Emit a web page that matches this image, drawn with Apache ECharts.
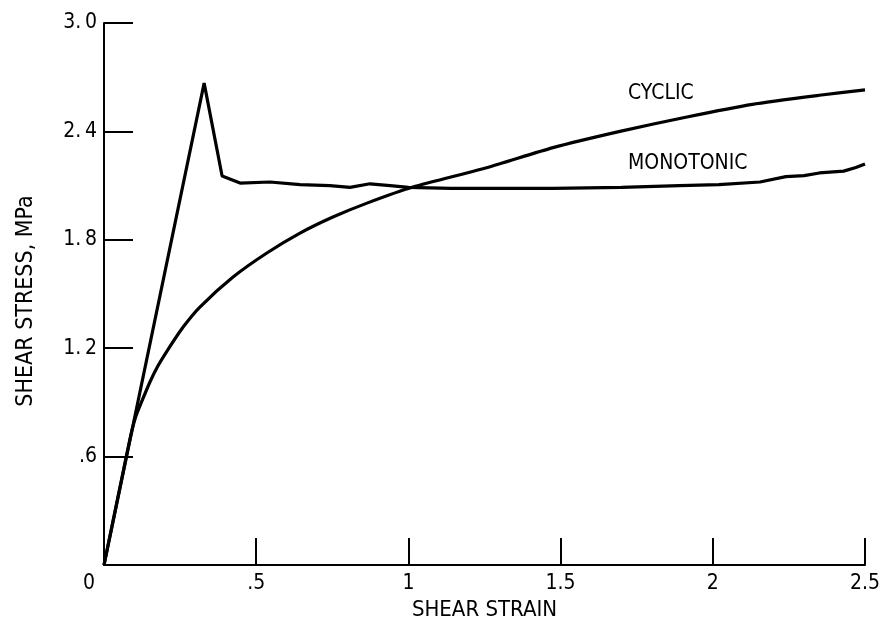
<!DOCTYPE html>
<html>
<head>
<meta charset="utf-8">
<script src="https://cdn.jsdelivr.net/npm/echarts@6/dist/echarts.min.js"></script>
<style>html,body{margin:0;padding:0;background:#fff}#c{width:890px;height:629px}</style>
</head>
<body>
<div id="c"></div>
<script>
// Tick labels
var yTickLabels = {'0.6': '.6', '1.2': '1.\u20092', '1.8': '1.\u20098', '2.4': '2.\u20094', '3': '3.\u20090'};
var xTickLabels = {'0': '0', '0.5': '.5', '1': '1', '1.5': '1.5', '2': '2', '2.5': '2.5'};

// Monotonic curve
var monoX = [0, 0.329, 0.388, 0.447, 0.545, 0.644, 0.742, 0.808, 0.874, 0.94, 1.0, 1.14, 1.30, 1.475, 1.70, 1.89, 2.02, 2.155, 2.24, 2.30, 2.35, 2.43, 2.47, 2.5];
var monoY = [0, 2.667, 2.153, 2.114, 2.12, 2.105, 2.10, 2.09, 2.11, 2.10, 2.09, 2.085, 2.085, 2.085, 2.09, 2.10, 2.105, 2.12, 2.15, 2.155, 2.17, 2.18, 2.20, 2.22];

// Cyclic curve
var cycX = [0, 0.079, 0.092, 0.105, 0.122, 0.151, 0.177, 0.207, 0.26, 0.315, 0.424, 0.535, 0.644, 0.752, 0.864, 1.015, 1.26, 1.475, 1.695, 1.915, 2.13, 2.35, 2.5];
var cycY = [0, 0.647, 0.747, 0.825, 0.897, 1.013, 1.101, 1.184, 1.317, 1.428, 1.594, 1.727, 1.837, 1.926, 2.003, 2.092, 2.20, 2.31, 2.40, 2.48, 2.55, 2.60, 2.63];

function zip(a, b) { return a.map(function (v, i) { return [v, b[i]]; }); }

var FONT = '"DejaVu Sans Condensed", "Liberation Sans Narrow", sans-serif';
var chart = echarts.init(document.getElementById('c'), null, {renderer: 'canvas'});
chart.setOption({
  animation: false,
  backgroundColor: '#fff',
  grid: {left: 104, right: 25, top: 23, bottom: 64},
  xAxis: {
    type: 'value', min: 0, max: 2.5, interval: 0.5,
    name: 'SHEAR STRAIN', nameLocation: 'middle', nameGap: 34,
    nameTextStyle: {color: '#000', fontSize: 22, fontFamily: FONT},
    axisLine: {lineStyle: {color: '#000', width: 2}},
    axisTick: {inside: true, length: 27, lineStyle: {color: '#000', width: 2}},
    splitLine: {show: false},
    axisLabel: {
      color: '#000', fontSize: 21, fontFamily: FONT, margin: 8,
      formatter: function (v) {
        var s = xTickLabels[String(v)];
        if (v === 0) return '{z|' + s + '}';
        return s;
      },
      rich: {z: {color: '#000', fontSize: 21, fontFamily: FONT, padding: [0, 30, 0, 0]}}
    }
  },
  yAxis: {
    type: 'value', min: 0, max: 3, interval: 0.6,
    name: 'SHEAR STRESS, MPa', nameLocation: 'middle', nameGap: 66, nameRotate: 90,
    nameTextStyle: {color: '#000', fontSize: 23, fontFamily: FONT, padding: [0, 14, 0, 0]},
    axisLine: {show: true, lineStyle: {color: '#000', width: 2}},
    axisTick: {show: true, inside: true, length: 29, lineStyle: {color: '#000', width: 2}},
    splitLine: {show: false},
    axisLabel: {
      color: '#000', fontSize: 21, fontFamily: FONT, margin: 7,
      formatter: function (v) { return v === 0 ? '' : (yTickLabels[String(+v.toFixed(1))] || ''); }
    }
  },
  graphic: [
    {type: 'text', left: 628, top: 83, style: {text: 'CYCLIC', fill: '#000', font: '21px ' + FONT}},
    {type: 'text', left: 628, top: 153, style: {text: 'MONOTONIC', fill: '#000', font: '21px ' + FONT}}
  ],
  series: [
    {type: 'line', data: zip(monoX, monoY), symbol: 'none', smooth: false,
     lineStyle: {color: '#000', width: 3.2}},
    {type: 'line', data: zip(cycX, cycY), symbol: 'none', smooth: 0.2,
     lineStyle: {color: '#000', width: 3.2}}
  ]
});
</script>
</body>
</html>
